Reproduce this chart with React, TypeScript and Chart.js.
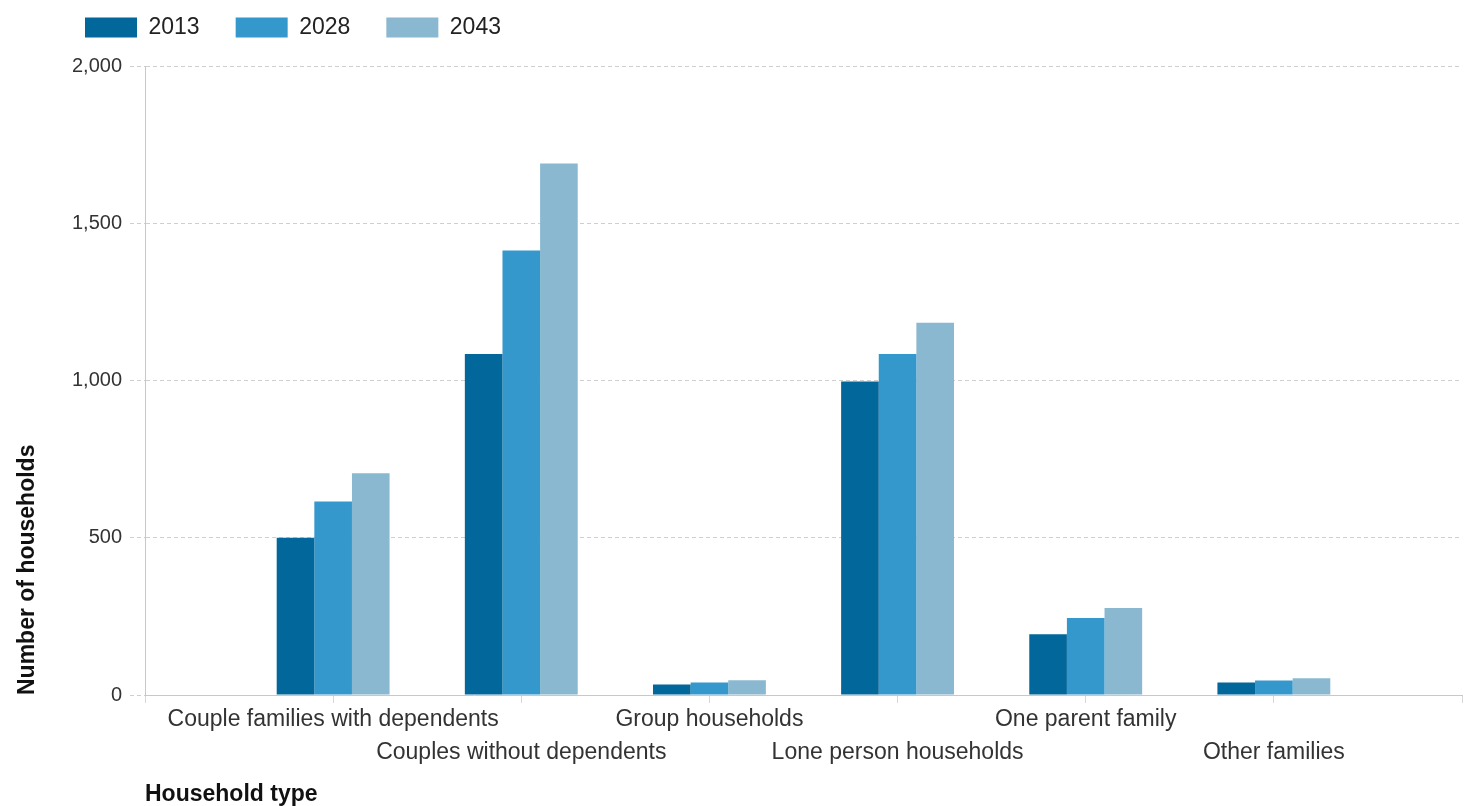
import React, { useEffect, useRef } from "react";
import { Chart, registerables } from "chart.js";

Chart.register(...registerables);

// ---- data ----
const categories: string[] = [
  "",
  "Couple families with dependents",
  "Couples without dependents",
  "Group households",
  "Lone person households",
  "One parent family",
  "Other families",
  "",
];
const seriesNames: string[] = ["2013", "2028", "2043"];
const values2013: (number | null)[] = [null, 500, 1084, 33, 997, 193, 40, null];
const values2028: (number | null)[] = [null, 615, 1413, 40, 1084, 245, 46, null];
const values2043: (number | null)[] = [null, 705, 1690, 47, 1184, 277, 53, null];
const seriesColors: string[] = ["#02679A", "#3598CD", "#8AB8D0"];
const yMin = 0;
const yMax = 2000;
const yStep = 500;
const xTitle = "Household type";
const yTitle = "Number of households";

const FONT = "'Liberation Sans', Arial, sans-serif";

export default function App() {
  const canvasRef = useRef<HTMLCanvasElement | null>(null);

  useEffect(() => {
    document.body.style.margin = "0";
    const canvas = canvasRef.current;
    if (!canvas) return;

    // staggered labels: even-indexed categories go on the second row
    const labels = categories.map((c, i) => (c && i % 2 === 0 ? ["", c] : c));

    const legendPlacement = {
      id: "legendPlacement",
      beforeLayout(chart: any) {
        const lg = chart.legend;
        if (lg && !lg.__patched) {
          const orig = lg.fit.bind(lg);
          lg.fit = function () {
            orig();
            lg.height = 66;
          };
          lg.__patched = true;
        }
      },
      afterLayout(chart: any) {
        const lg = chart.legend;
        if (lg) {
          lg.left = 49;
          lg.top = -20;
        }
      },
    };

    const chart = new Chart(canvas, {
      type: "bar",
      data: {
        labels,
        datasets: [values2013, values2028, values2043].map((d, i) => ({
          label: seriesNames[i],
          data: d,
          backgroundColor: seriesColors[i],
          borderWidth: 0,
          categoryPercentage: 0.6,
          barPercentage: 1,
        })),
      },
      options: {
        animation: false,
        responsive: false,
        maintainAspectRatio: false,
        layout: { padding: { left: 0, right: 9, top: 0, bottom: 0 } },
        plugins: {
          tooltip: { enabled: false },
          legend: {
            display: true,
            position: "top",
            align: "start",
            labels: {
              boxWidth: 52,
              boxHeight: 20,
              padding: 36,
              color: "#222",
              font: { family: FONT, size: 23 },
            },
          },
        },
        scales: {
          x: {
            type: "category",
            offset: false,
            grid: {
              display: true,
              offset: false,
              drawOnChartArea: false,
              drawTicks: true,
              tickLength: 8,
              tickColor: "#d8d8d8",
            },
            border: { display: true, color: "#c8c8c8", width: 1 },
            ticks: {
              autoSkip: false,
              maxRotation: 0,
              minRotation: 0,
              padding: 1,
              color: "#333",
              font: { family: FONT, size: 23, lineHeight: 1.4 },
            },
            title: {
              display: true,
              text: xTitle,
              align: "start",
              color: "#111",
              font: { family: FONT, size: 23, weight: "bold", lineHeight: 1.0 },
              padding: { top: 0, bottom: 0 },
            },
            afterFit(scale: any) {
              scale.height = 111;
            },
          },
          y: {
            min: yMin,
            max: yMax,
            ticks: {
              stepSize: yStep,
              padding: 8,
              color: "#333",
              font: { family: FONT, size: 20 },
            },
            grid: {
              color: "#cfcfcf",
              lineWidth: 1,
              tickLength: 15,
              tickColor: "#cfcfcf",
              tickBorderDash: [4, 3],
            },
            border: { display: true, color: "#c8c8c8", width: 1, dash: [4, 3] },
            title: {
              display: true,
              text: yTitle,
              align: "start",
              color: "#111",
              font: { family: FONT, size: 23, weight: "bold", lineHeight: 1.2 },
              padding: { top: 14, bottom: 0 },
            },
            afterFit(scale: any) {
              scale.width = 145;
            },
          },
        },
      },
      plugins: [legendPlacement],
    });

    return () => chart.destroy();
  }, []);

  return (
    <div style={{ position: "absolute", left: 0, top: 0, width: 1471, height: 806, background: "#fff" }}>
      <canvas ref={canvasRef} width={1471} height={806} style={{ width: 1471, height: 806 }} />
    </div>
  );
}
